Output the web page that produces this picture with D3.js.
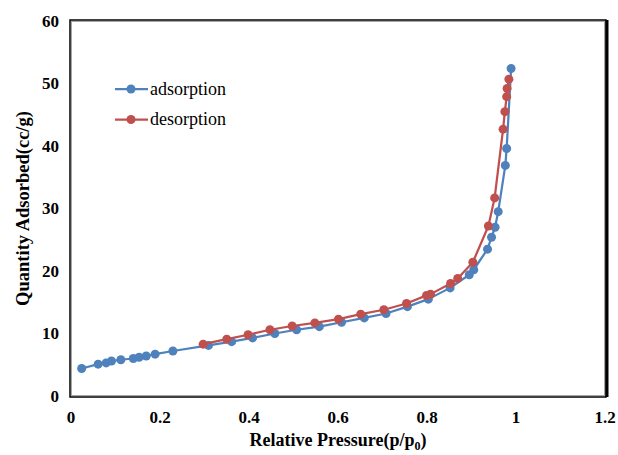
<!DOCTYPE html>
<html>
<head>
<meta charset="utf-8">
<script src="https://cdn.jsdelivr.net/npm/d3@7"></script>
<style>
  body { margin: 0; background: #fff; }
  text { font-family: "Liberation Serif", "Times New Roman", serif; }
</style>
</head>
<body>
<div id="chart"></div>
<script>
// adsorption branch
const adsX = [0.024, 0.061, 0.079, 0.091, 0.112, 0.140, 0.153, 0.169, 0.189, 0.229,
  0.309, 0.361, 0.408, 0.458, 0.507, 0.558, 0.608, 0.659, 0.708, 0.756, 0.803,
  0.852, 0.895, 0.905, 0.936, 0.945, 0.953, 0.960, 0.976, 0.979, 0.989];
const adsY = [4.4, 5.1, 5.3, 5.6, 5.8, 6.0, 6.2, 6.4, 6.7, 7.2,
  8.1, 8.7, 9.3, 10.0, 10.6, 11.1, 11.8, 12.5, 13.2, 14.3, 15.5,
  17.3, 19.4, 20.2, 23.5, 25.4, 27.0, 29.5, 36.9, 39.6, 52.4];

// desorption branch
const desX = [0.984, 0.980, 0.979, 0.975, 0.971, 0.952, 0.938, 0.903, 0.869, 0.853,
  0.808, 0.799, 0.754, 0.703, 0.651, 0.601, 0.548, 0.497, 0.447, 0.398, 0.350, 0.297];
const desY = [50.7, 49.2, 47.9, 45.5, 42.7, 31.7, 27.2, 21.4, 18.8, 18.0,
  16.3, 16.1, 14.8, 13.8, 13.1, 12.3, 11.7, 11.2, 10.6, 9.8, 9.1, 8.3];

const xTicks = [0, 0.2, 0.4, 0.6, 0.8, 1, 1.2];
const yTicks = [0, 10, 20, 30, 40, 50, 60];
const seriesNames = ['adsorption', 'desorption'];
const seriesColors = ['#4F81BD', '#C0504D'];

const width = 618, height = 455;
const margin = { top: 21, right: 13, bottom: 59, left: 71 };

const svg = d3.select('#chart').append('svg')
  .attr('width', width)
  .attr('height', height);

const xScale = d3.scaleLinear().domain([0, 1.2]).range([margin.left, width - margin.right]);
const yScale = d3.scaleLinear().domain([0, 60]).range([height - margin.bottom, margin.top]);

const x0 = xScale(0), x1 = xScale(1.2), y0 = yScale(0), y1 = yScale(60);

// plot area frame (black border with a grey inner line and a dark shadow on the right)
svg.append('rect')
  .attr('x', x0 - 1).attr('y', y1 - 1)
  .attr('width', x1 - x0 + 2).attr('height', y0 - y1 + 2)
  .attr('fill', 'none').attr('stroke', '#000').attr('stroke-width', 1.5);
svg.append('rect')
  .attr('x', x0 + 0.5).attr('y', y1 + 0.5)
  .attr('width', x1 - x0 - 1).attr('height', y0 - y1 - 1)
  .attr('fill', 'none').attr('stroke', '#a6a6a6').attr('stroke-width', 1);
svg.append('line')
  .attr('x1', x1 + 2).attr('x2', x1 + 2).attr('y1', y1 - 1).attr('y2', y0 + 1)
  .attr('stroke', '#000').attr('stroke-width', 3);

// tick labels
svg.append('g').selectAll('text')
  .data(yTicks)
  .enter().append('text')
  .attr('x', x0 - 12)
  .attr('y', d => yScale(d))
  .attr('dy', '0.35em')
  .attr('text-anchor', 'end')
  .style('font-size', '17px')
  .style('font-weight', 'bold')
  .text(d => d);

svg.append('g').selectAll('text')
  .data(xTicks)
  .enter().append('text')
  .attr('x', d => xScale(d))
  .attr('y', y0 + 27)
  .attr('text-anchor', 'middle')
  .style('font-size', '17px')
  .style('font-weight', 'bold')
  .text(d => d);

// axis titles
const xTitle = svg.append('text')
  .attr('x', (x0 + x1) / 2)
  .attr('y', 446)
  .attr('text-anchor', 'middle')
  .style('font-size', '18px')
  .style('font-weight', 'bold');
xTitle.append('tspan').text('Relative Pressure(p/p');
xTitle.append('tspan').attr('dy', 4).style('font-size', '12px').text('0');
xTitle.append('tspan').attr('dy', -4).text(')');

svg.append('text')
  .attr('transform', `translate(29,${(y0 + y1) / 2}) rotate(-90)`)
  .attr('text-anchor', 'middle')
  .style('font-size', '18.5px')
  .style('font-weight', 'bold')
  .text('Quantity Adsorbed(cc/g)');

// series
const series = [
  d3.zip(adsX, adsY),
  d3.zip(desX, desY)
];

const line = d3.line()
  .x(d => xScale(d[0]))
  .y(d => yScale(d[1]));

series.forEach((pts, i) => {
  const g = svg.append('g');
  g.append('path')
    .datum(pts)
    .attr('d', line)
    .attr('fill', 'none')
    .attr('stroke', seriesColors[i])
    .attr('stroke-width', 2.25)
    .attr('stroke-linejoin', 'round');
  g.selectAll('circle')
    .data(pts)
    .enter().append('circle')
    .attr('cx', d => xScale(d[0]))
    .attr('cy', d => yScale(d[1]))
    .attr('r', 4.5)
    .attr('fill', seriesColors[i]);
});

// legend
const legend = svg.append('g').attr('transform', 'translate(115,89)');
seriesNames.forEach((name, i) => {
  const row = legend.append('g').attr('transform', `translate(0,${i * 30.5})`);
  row.append('line')
    .attr('x1', 0).attr('x2', 33)
    .attr('stroke', seriesColors[i]).attr('stroke-width', 2.25);
  row.append('circle')
    .attr('cx', 16).attr('r', 4.5)
    .attr('fill', seriesColors[i]);
  row.append('text')
    .attr('x', 35)
    .attr('dy', '0.33em')
    .style('font-size', '18px')
    .text(name);
});
</script>
</body>
</html>
